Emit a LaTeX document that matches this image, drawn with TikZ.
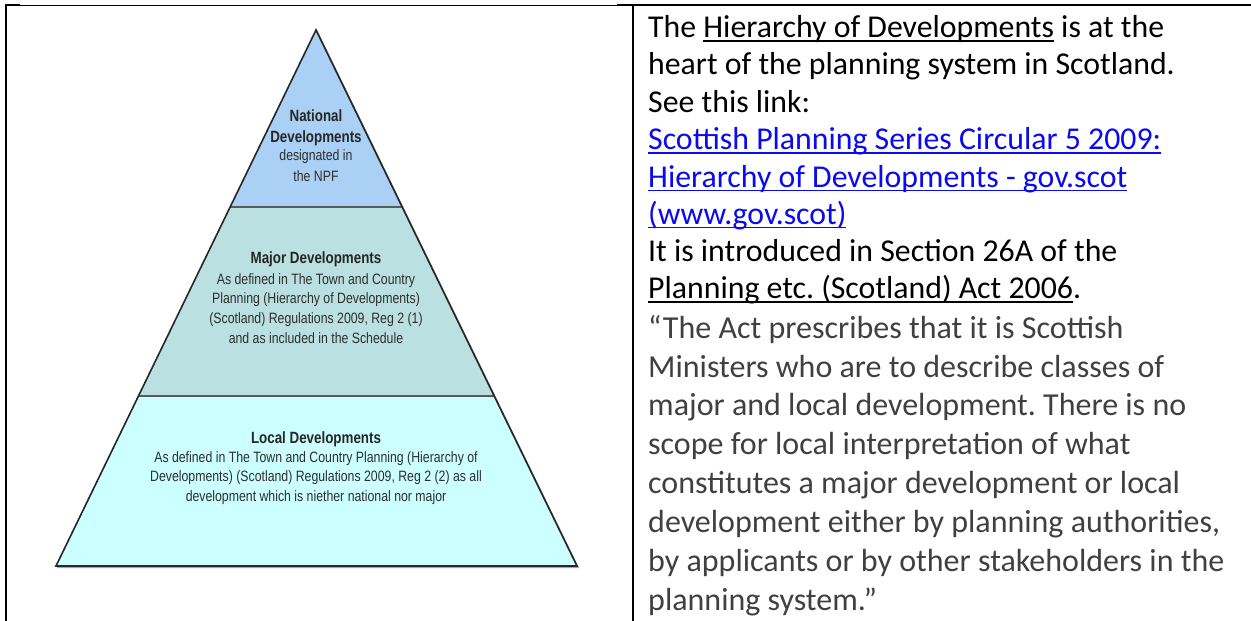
\documentclass[tikz,border=0pt]{standalone}
\usepackage{fontspec}
\usetikzlibrary{calc}
\setmainfont{Carlito}
\newfontfamily\pyrfont{Liberation Sans}[FakeStretch=0.82]
\frenchspacing

% underline drawn at a fixed depth below the baseline
\newcommand\ulbar[1]{\setbox0=\hbox{#1}\rlap{\rule[-4.2pt]{\wd0}{1.8pt}}\box0\relax}

\definecolor{natfill}{RGB}{170,208,245}
\definecolor{majfill}{RGB}{186,224,226}
\definecolor{locfill}{RGB}{204,255,255}
\definecolor{linkblue}{RGB}{10,10,240}
\definecolor{quotegray}{RGB}{64,64,64}

\tikzset{
  tableline/.style={line width=2pt, black},
  outline/.style={line width=1.6pt, black!85, line join=miter},
  edgeshadow/.style={line width=1.6pt, black!35},
  divider/.style={line width=1.2pt, black!65},
  pyrtitle/.style={font=\pyrfont\bfseries\fontsize{16.3}{20}\selectfont, text=black!85, anchor=base, inner sep=0pt},
  pyrtext/.style={font=\pyrfont\fontsize{15}{18}\selectfont, text=black!82, anchor=base, inner sep=0pt},
  bodyline/.style={font=\fontsize{31.8}{37}\selectfont, anchor=base west, inner sep=0pt, text=black},
  linkline/.style={bodyline, text=linkblue},
  quoteline/.style={font=\fontsize{32}{39}\selectfont, anchor=base west, inner sep=0pt, text=quotegray}
}

\begin{document}
\begin{tikzpicture}[x=1pt,y=-1pt]
\useasboundingbox (0,0) rectangle (1251,621);
\fill[white] (0,0) rectangle (1251,621);

% table rules
\coordinate (tl) at (5,5.5);
\coordinate (tm) at (617,5.5);
\coordinate (tr) at (1251,5.5);
\coordinate (lb) at (6,621);
\coordinate (lt) at (6,5);
\coordinate (mt) at (633,5);
\coordinate (mb) at (633,621);
\draw[line width=1pt] (tl) -- (tr);
\draw[tableline] ([yshift=0.5pt]tm) -- ([yshift=0.5pt]tr);
\draw[tableline] ([yshift=0.5pt]tl) -- ([xshift=15pt,yshift=0.5pt]tl);
\draw[tableline] (lt) -- (lb);
\draw[tableline] (mt) -- (mb);

% pyramid corners and tier boundaries
\coordinate (apex) at (316,30);
\coordinate (bl) at (56,566);
\coordinate (br) at (577,566);
\coordinate (nl) at ($(apex)!0.3302!(bl)$);
\coordinate (nr) at ($(apex)!0.3302!(br)$);
\coordinate (ml) at ($(apex)!0.6828!(bl)$);
\coordinate (mr) at ($(apex)!0.6828!(br)$);

\fill[natfill] (apex) -- (nr) -- (nl) -- cycle;
\fill[majfill] (nl) -- (nr) -- (mr) -- (ml) -- cycle;
\fill[locfill] (ml) -- (mr) -- (br) -- (bl) -- cycle;
\draw[divider] (nl) -- (nr);
\draw[divider] (ml) -- (mr);
\draw[edgeshadow] ([shift={(1,1.4)}]apex) -- ([shift={(1,1.4)}]br) -- ([shift={(1,1.4)}]bl);
\draw[outline] (apex) -- (br) -- (bl) -- cycle;

% tier labels
\node[pyrtitle] (nat1) at (316,121) {National};
\node[pyrtitle] (nat2) at (316,142) {Developments};
\node[pyrtext]  (nat3) at (316,160) {designated in};
\node[pyrtext]  (nat4) at (316,181) {the NPF};

\node[pyrtitle] (maj1) at (316,263) {Major Developments};
\node[pyrtext]  (maj2) at (316,284) {As defined in The Town and Country};
\node[pyrtext]  (maj3) at (316,303.5) {Planning (Hierarchy of Developments)};
\node[pyrtext]  (maj4) at (316,323) {(Scotland) Regulations 2009, Reg 2 (1)};
\node[pyrtext]  (maj5) at (316,343) {and as included in the Schedule};

\node[pyrtitle] (loc1) at (316,443) {Local Developments};
\node[pyrtext]  (loc2) at (316,462) {As defined in The Town and Country Planning (Hierarchy of};
\node[pyrtext]  (loc3) at (316,481.5) {Developments) (Scotland) Regulations 2009, Reg 2 (2) as all};
\node[pyrtext]  (loc4) at (316,501) {development which is niether national nor major};

% right-hand cell
\node[bodyline] (t1) at (648,37.5)  {The \ulbar{Hierarchy of Developments} is at the};
\node[bodyline] (t2) at (648,74.8)  {heart of the planning system in Scotland.};
\node[bodyline] (t3) at (648,112.1) {See this link:};
\node[linkline] (t4) at (648,149.6) {\ulbar{Scottish Planning Series Circular 5 2009:}};
\node[linkline] (t5) at (648,187.2) {\ulbar{Hierarchy of Developments - gov.scot}};
\node[linkline] (t6) at (648,224.2) {\ulbar{(www.gov.scot)}};
\node[bodyline] (t7) at (648,261.8) {It is introduced in Section 26A of the};
\node[bodyline] (t8) at (648,298.3) {\ulbar{Planning etc. (Scotland) Act 2006}.};

\node[quoteline] (q1) at (648,338)   {“The Act prescribes that it is Scottish};
\node[quoteline] (q2) at (648,377.2) {Ministers who are to describe classes of};
\node[quoteline] (q3) at (648,415.8) {major and local development. There is no};
\node[quoteline] (q4) at (648,454.4) {scope for local interpretation of what};
\node[quoteline] (q5) at (648,493)   {constitutes a major development or local};
\node[quoteline] (q6) at (648,532)   {development either by planning authorities,};
\node[quoteline] (q7) at (648,571)   {by applicants or by other stakeholders in the};
\node[quoteline] (q8) at (648,610.5) {planning system.”};
\end{tikzpicture}
\end{document}
